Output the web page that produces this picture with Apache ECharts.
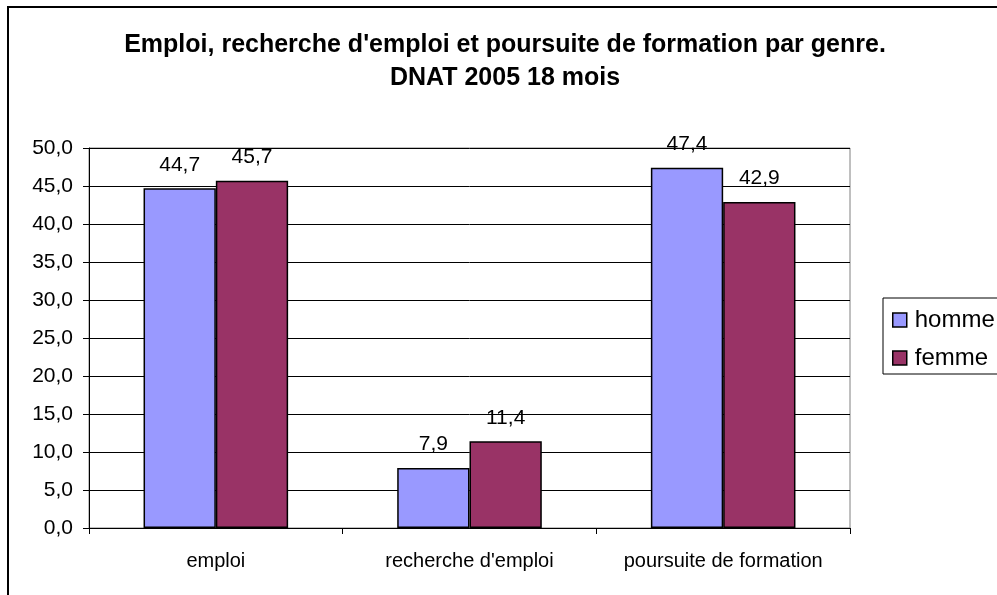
<!DOCTYPE html>
<html>
<head>
<meta charset="utf-8">
<script src="https://cdn.jsdelivr.net/npm/echarts@6/dist/echarts.min.js"></script>
<style>
  html, body { margin: 0; padding: 0; background: #fff; }
  #chart { width: 997px; height: 595px; }
</style>
</head>
<body>
<div id="chart"></div>
<script>
// categories and values
var categories = ['emploi', "recherche d'emploi", 'poursuite de formation'];
var homme = [44.7, 7.9, 47.4];
var femme = [45.7, 11.4, 42.9];
var seriesNames = ['homme', 'femme'];

var myChart = echarts.init(document.getElementById('chart'));

function comma(v) {
  return v.toFixed(1).replace('.', ',');
}

var labelStyle = {
  show: true,
  position: 'top',
  distance: 13,
  color: '#000',
  fontSize: 21,
  fontFamily: 'Liberation Sans, Arial',
  formatter: function (p) { return comma(p.value); }
};

var option = {
  backgroundColor: '#fff',
  animation: false,
  title: {
    text: "Emploi, recherche d'emploi et poursuite de formation par genre.\nDNAT 2005 18 mois",
    left: 500,
    top: 24,
    textAlign: 'center',
    textStyle: {
      fontFamily: 'Liberation Sans, Arial',
      fontSize: 25,
      fontWeight: 'bold',
      color: '#000',
      lineHeight: 33
    }
  },
  legend: {
    orient: 'vertical',
    left: 883,
    top: 298,
    padding: [10, 40, 4, 9],
    itemGap: 14,
    itemWidth: 14,
    itemHeight: 14,
    icon: 'rect',
    borderColor: '#000',
    borderWidth: 1,
    data: seriesNames,
    textStyle: {
      fontFamily: 'Liberation Sans, Arial',
      fontSize: 24,
      lineHeight: 24,
      color: '#000',
      padding: [0, 0, 0, 3]
    },
    itemStyle: { borderColor: '#000', borderWidth: 1.5 }
  },
  grid: {
    left: 89,
    top: 148,
    right: 147,
    bottom: 67,
    show: true,
    borderColor: '#808080',
    borderWidth: 1
  },
  xAxis: {
    type: 'category',
    data: categories,
    axisLine: { lineStyle: { color: '#000', width: 1 } },
    axisTick: { show: true, length: 6, lineStyle: { color: '#000' } },
    axisLabel: {
      interval: 0,
      color: '#000',
      fontSize: 20,
      fontFamily: 'Liberation Sans, Arial',
      margin: 23
    }
  },
  yAxis: {
    type: 'value',
    min: 0,
    max: 50,
    interval: 5,
    axisLine: { show: true, lineStyle: { color: '#000', width: 1 } },
    axisTick: { show: true, length: 6, lineStyle: { color: '#000' } },
    axisLabel: {
      color: '#000',
      fontSize: 21,
      fontFamily: 'Liberation Sans, Arial',
      margin: 16,
      formatter: function (v) { return comma(v); }
    },
    splitLine: { show: true, lineStyle: { color: '#000', width: 1 } }
  },
  series: [
    {
      name: 'homme',
      type: 'bar',
      data: homme,
      barGap: '0%',
      barCategoryGap: '43%',
      itemStyle: { color: '#9999ff', borderColor: '#000', borderWidth: 1.5 },
      label: labelStyle
    },
    {
      name: 'femme',
      type: 'bar',
      data: femme,
      itemStyle: { color: '#993366', borderColor: '#000', borderWidth: 1.5 },
      label: labelStyle
    }
  ],
  graphic: [
    {
      type: 'rect',
      shape: { x: 8, y: 7, width: 1200, height: 800 },
      style: { fill: 'none', stroke: '#000', lineWidth: 2 },
      silent: true
    }
  ]
};

myChart.setOption(option);
</script>
</body>
</html>
